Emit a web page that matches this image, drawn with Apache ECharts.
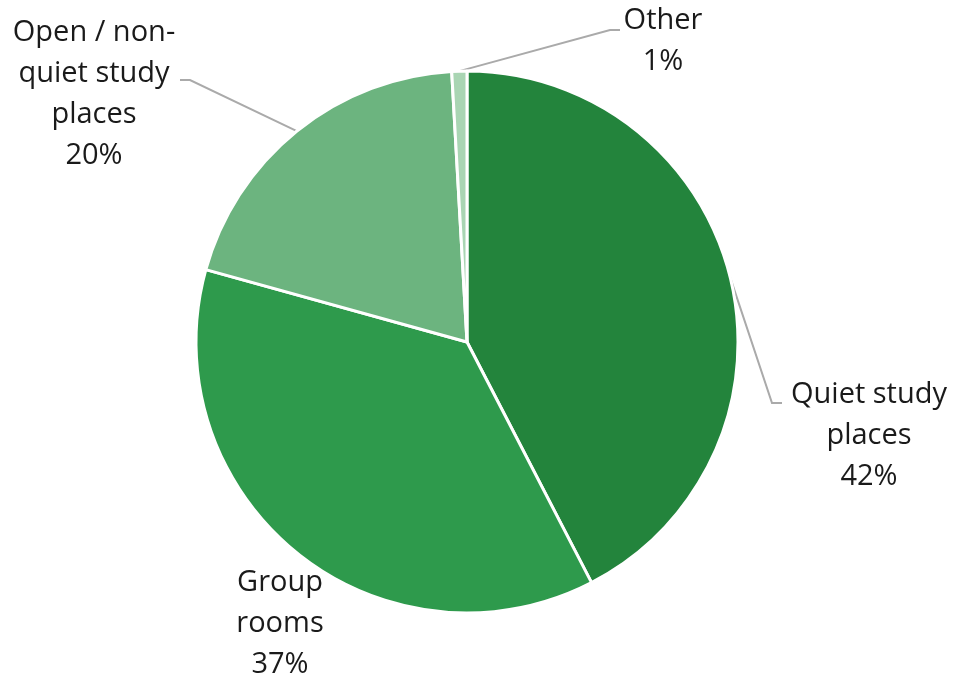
<!DOCTYPE html>
<html>
<head>
<meta charset="utf-8">
<script src="https://cdn.jsdelivr.net/npm/echarts@6/dist/echarts.min.js"></script>
<style>
html,body{margin:0;padding:0;background:#fff;}
#chart{width:957px;height:679px;}
</style>
</head>
<body>
<div id="chart"></div>
<script>
// Data
const categories = ['Quiet study places', 'Group rooms', 'Open / non-quiet study places', 'Other'];
const labelTexts = ['Quiet study\nplaces', 'Group\nrooms', 'Open / non-\nquiet study\nplaces', 'Other'];
const values = [42.4, 36.9, 19.8, 0.9];
const colors = ['#23843c', '#2e9a4c', '#6cb47f', '#a9d5b3'];

// Label placement (centre x, top y, elbow point, end point)
const labelPlacement = [
  { x: 869, y: 374, elbow: [772, 403], end: [782, 403], line: true },
  { x: 280, y: 562, line: false },
  { x: 94, y: 12, elbow: [190, 80], end: [180, 80], line: true },
  { x: 663, y: 0, elbow: [610, 30], end: [620, 30], line: true }
];

const total = values.reduce((a, b) => a + b, 0);
const chart = echarts.init(document.getElementById('chart'), null, { renderer: 'canvas' });

const seriesData = categories.map((name, i) => ({
  name: name,
  value: values[i],
  itemStyle: { color: colors[i] },
  labelLine: { show: labelPlacement[i].line }
}));

chart.setOption({
  backgroundColor: '#ffffff',
  animation: false,
  series: [{
    type: 'pie',
    center: [467, 342],
    radius: [0, 271],
    startAngle: 90,
    clockwise: true,
    avoidLabelOverlap: false,
    data: seriesData,
    itemStyle: { borderColor: '#ffffff', borderWidth: 3 },
    label: {
      show: true,
      position: 'outside',
      fontFamily: 'Open Sans',
      fontSize: 29,
      lineHeight: 41,
      color: '#1a1a1a',
      align: 'center',
      formatter: function (p) {
        const pct = Math.round(p.value / total * 100);
        return labelTexts[p.dataIndex] + '\n' + pct + '%';
      }
    },
    labelLine: {
      show: true,
      length: 20,
      length2: 10,
      lineStyle: { color: '#aaaaaa', width: 2 }
    },
    labelLayout: function (params) {
      const lp = labelPlacement[params.dataIndex];
      const out = { x: lp.x, y: lp.y, align: 'center', verticalAlign: 'top' };
      if (lp.line && params.labelLinePoints) {
        out.labelLinePoints = [params.labelLinePoints[0], lp.elbow, lp.end];
      }
      return out;
    }
  }]
});
</script>
</body>
</html>
